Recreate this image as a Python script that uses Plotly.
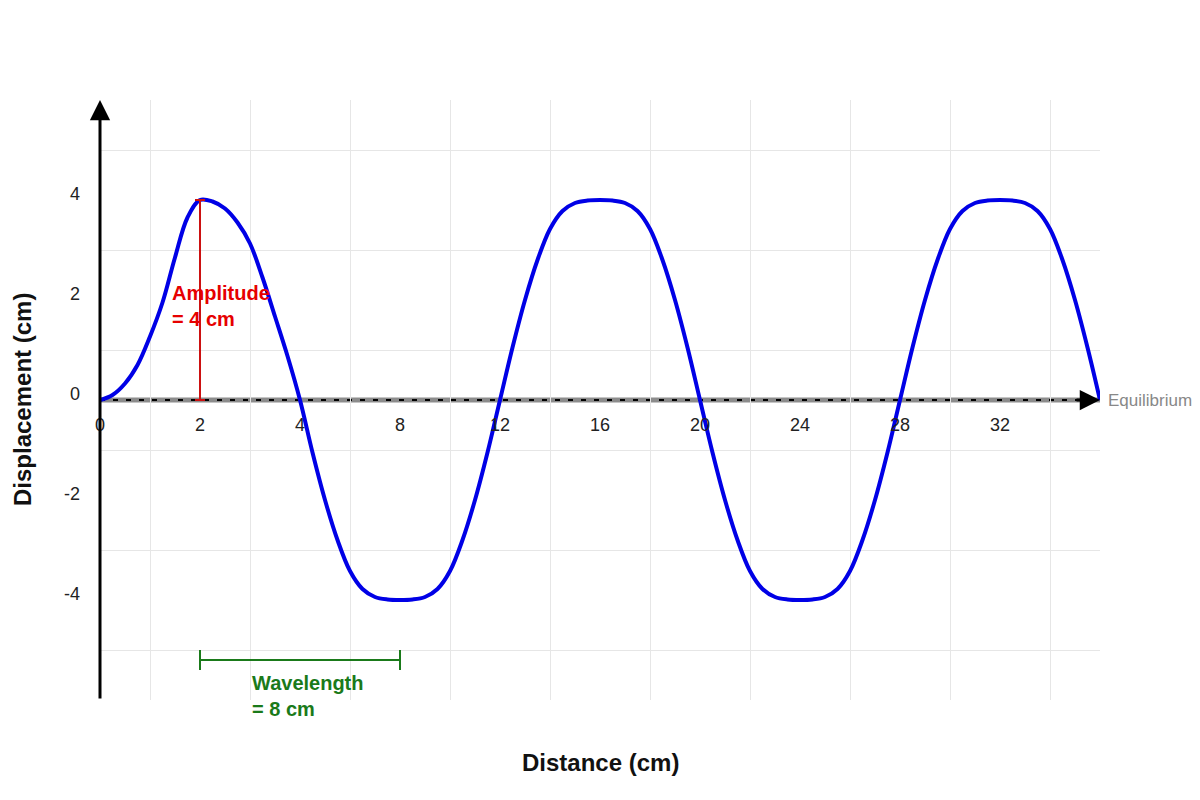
import plotly.graph_objects as go

# wave samples, every 0.25 axis units
distance = [0, 0.25, 0.5, 0.75, 1, 1.25, 1.5, 1.75, 2,
            2.25, 2.5, 2.75, 3, 3.25, 3.5, 3.75, 4,
            4.25, 4.5, 4.75, 5, 5.25, 5.5, 5.75, 6,
            6.25, 6.5, 6.75, 7, 7.25, 7.5, 7.75, 8,
            8.25, 8.5, 8.75, 9, 9.25, 9.5, 9.75, 10,
            10.25, 10.5, 10.75, 11, 11.25, 11.5, 11.75, 12,
            12.25, 12.5, 12.75, 13, 13.25, 13.5, 13.75, 14,
            14.25, 14.5, 14.75, 15, 15.25, 15.5, 15.75, 16,
            16.25, 16.5, 16.75, 17, 17.25, 17.5, 17.75, 18,
            18.25, 18.5, 18.75, 19, 19.25, 19.5, 19.75, 20]
displacement = [0, 0.1, 0.33, 0.7, 1.27, 1.95, 2.85, 3.65, 4,
                3.97, 3.83, 3.55, 3.13, 2.45, 1.67, 0.88, 0,
                -1.05, -2.0, -2.8, -3.42, -3.78, -3.94, -3.99, -4,
                -3.99, -3.94, -3.78, -3.42, -2.8, -2.0, -1.05, 0,
                1.05, 2.0, 2.8, 3.42, 3.78, 3.94, 3.99, 4,
                3.99, 3.94, 3.78, 3.42, 2.8, 2.0, 1.05, 0,
                -1.05, -2.0, -2.8, -3.42, -3.78, -3.94, -3.99, -4,
                -3.99, -3.94, -3.78, -3.42, -2.8, -2.0, -1.05, 0,
                1.05, 2.0, 2.8, 3.42, 3.78, 3.94, 3.99, 4,
                3.99, 3.94, 3.78, 3.42, 2.8, 2.0, 1.05, 0]

x_tickvals = [0, 2, 4, 6, 8, 10, 12, 14, 16, 18]
x_ticktext = ["0", "2", "4", "8", "12", "16", "20", "24", "28", "32"]
x_grid = [1, 3, 5, 7, 9, 11, 13, 15, 17, 19]

y_tickvals = [4, 2, 0, -2, -4]
y_ticktext = ["4", "2", "0", "-2", "-4"]
y_grid = [5, 3, 1, -1, -3, -5]

x_range = [0, 20]
y_range = [-6, 6]

amplitude = 4
amp_at = 2
wave_start, wave_end = 2, 6
bracket_y = -5.2

FONT = "Liberation Sans, Arial, sans-serif"
GRID = "#e6e6e6"
RED = "#cc1111"
GREEN = "#1a7a1a"

fig = go.Figure()

fig.add_trace(go.Scatter(
    x=distance, y=displacement, mode="lines",
    line=dict(color="#0000e6", width=4, shape="spline", smoothing=1),
    hoverinfo="skip", showlegend=False, cliponaxis=False
))

shapes = [
    # equilibrium line: grey band with black dashes
    dict(type="line", x0=x_range[0], x1=x_range[1], y0=0, y1=0,
         line=dict(color="#8c8c8c", width=5), layer="below"),
    dict(type="line", x0=x_range[0], x1=x_range[1] - 0.4, y0=0, y1=0,
         line=dict(color="black", width=2, dash="5px,8px"), layer="below"),
    # amplitude marker
    dict(type="line", x0=amp_at, x1=amp_at, y0=0, y1=amplitude,
         line=dict(color=RED, width=2)),
    dict(type="line", x0=amp_at - 0.1, x1=amp_at + 0.1, y0=amplitude, y1=amplitude,
         line=dict(color=RED, width=2)),
    dict(type="line", x0=amp_at - 0.1, x1=amp_at + 0.1, y0=0, y1=0,
         line=dict(color=RED, width=2)),
    # wavelength bracket
    dict(type="line", x0=wave_start, x1=wave_end, y0=bracket_y, y1=bracket_y,
         line=dict(color=GREEN, width=2)),
    dict(type="line", x0=wave_start, x1=wave_start, y0=bracket_y + 0.2, y1=bracket_y - 0.2,
         line=dict(color=GREEN, width=2)),
    dict(type="line", x0=wave_end, x1=wave_end, y0=bracket_y + 0.2, y1=bracket_y - 0.2,
         line=dict(color=GREEN, width=2)),
]

annotations = [
    # y axis with arrow
    dict(x=0, y=y_range[1], ax=0, ay=y_range[0], xref="x", yref="y",
         axref="x", ayref="y", text="", showarrow=True,
         arrowhead=2, arrowsize=1.35, arrowwidth=3, arrowcolor="black"),
    # arrow head of the equilibrium line
    dict(x=x_range[1], y=0, ax=x_range[1] - 0.5, ay=0, xref="x", yref="y",
         axref="x", ayref="y", text="", showarrow=True,
         arrowhead=2, arrowsize=1.35, arrowwidth=3, arrowcolor="black"),
    dict(x=x_range[1], y=0, xref="x", yref="y", text="Equilibrium",
         showarrow=False, xanchor="left", xshift=6,
         font=dict(family=FONT, size=17, color="#888888")),
    dict(x=1.4, y=1.89, xref="x", yref="y", text="Amplitude<br>= 4 cm",
         showarrow=False, xanchor="left", align="left",
         font=dict(family=FONT, size=20, color="#e60000", weight="bold")),
    dict(x=3, y=-5.91, xref="x", yref="y", text="Wavelength<br>= 8 cm",
         showarrow=False, xanchor="left", align="left",
         font=dict(family=FONT, size=20, color=GREEN, weight="bold")),
    # axis titles
    dict(x=0.5, y=0, xref="paper", yref="paper", yshift=-62,
         text="Distance (cm)", showarrow=False, yanchor="middle",
         font=dict(family=FONT, size=24, color="#111111", weight="bold")),
    dict(x=0, y=0.5, xref="paper", yref="paper", xshift=-78,
         text="Displacement (cm)", showarrow=False, textangle=-90,
         xanchor="center", yanchor="middle",
         font=dict(family=FONT, size=24, color="#111111", weight="bold")),
]

fig.update_layout(
    width=1184, height=784,
    margin=dict(l=92, r=92, t=92, b=92),
    paper_bgcolor="white", plot_bgcolor="white",
    font=dict(family=FONT, size=18, color="#222222"),
    shapes=shapes, annotations=annotations,
    showlegend=False,
)

fig.update_xaxes(
    range=x_range, tickmode="array", tickvals=x_tickvals, ticktext=x_ticktext,
    anchor="free", position=0.5, showgrid=False, zeroline=False, showline=False,
    ticks="", ticklabelstandoff=12,
    minor=dict(tickmode="array", tickvals=x_grid, showgrid=True,
               gridcolor=GRID, gridwidth=1, ticks=""),
)
fig.update_yaxes(
    range=y_range, tickmode="array", tickvals=y_tickvals, ticktext=y_ticktext,
    showgrid=False, zeroline=False, showline=False, ticks="",
    ticklabelstandoff=19, ticklabelshift=-6,
    minor=dict(tickmode="array", tickvals=y_grid, showgrid=True,
               gridcolor=GRID, gridwidth=1, ticks=""),
)

fig.write_html("out.html")
